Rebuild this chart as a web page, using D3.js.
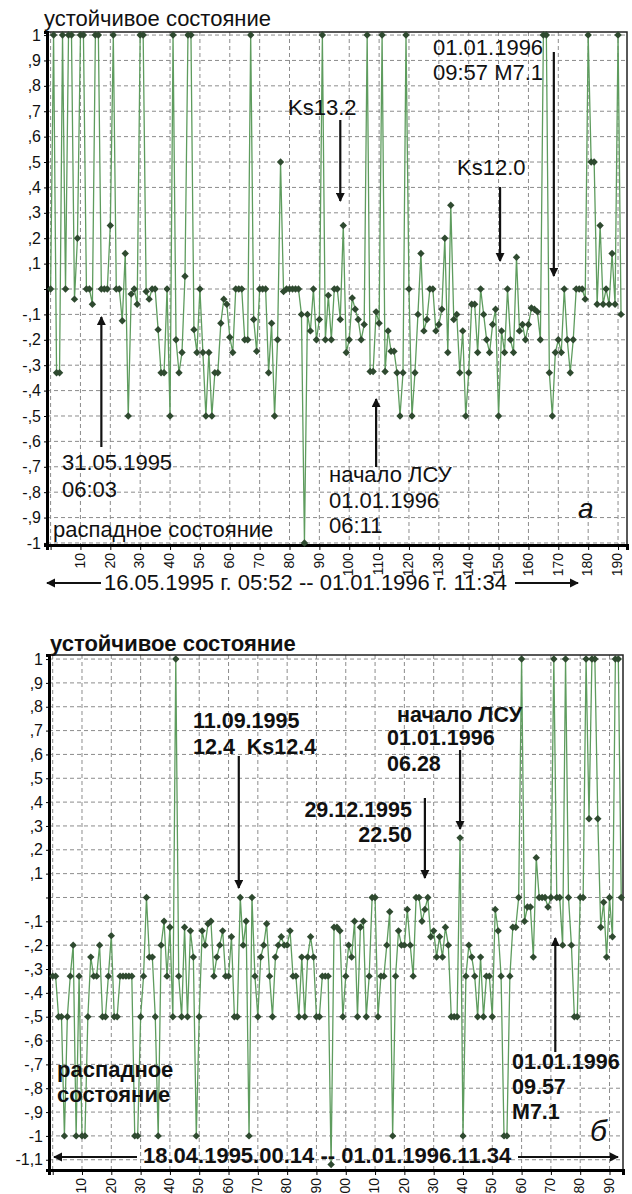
<!DOCTYPE html>
<html><head><meta charset="utf-8">
<script src="https://cdn.jsdelivr.net/npm/d3@7"></script>
<style>
body{margin:0;background:#fff}
svg{display:block}
text{font-family:"Liberation Sans",Arial,sans-serif;fill:#111}
</style>
</head><body>
<svg id="chart" width="632" height="1194"></svg>
<script>
// ---------- DATA ----------
const topValues = [
 0, 1, -0.33, -0.33, 1, 0, 1, 1, -0.04, 0.2,
 1, 1, 0, 0, -0.06, 1, 1, 0, 0, 0,
 0.25, 1, 0, 0, -0.125, 0.14, -0.5, -0.02, 0, -0.06,
 1, 1, -0.01, -0.04, 0, 0, -0.16, -0.33, -0.33, 0,
 -0.5, 1, -0.2, -0.33, -0.25, 0.05, 1, 1, -0.16, -0.25,
 0, -0.25, -0.5, -0.25, -0.5, -0.33, -0.33, -0.135, -0.04, -0.06,
 -0.19, -0.25, 0, 0, 0, -0.2, -0.2, 1, -0.12, -0.245,
 0, 0, 0, -0.33, -0.135, -0.5, -0.2, 0.5, -0.01, 0,
 0, 0, 0, 0, -0.1, -1.0, -0.1, -0.165, 0, -0.2,
 -0.12, 1, -0.2, -0.025, -0.2, 0, 0, -0.12, 0.25, -0.25,
 -0.2, -0.035, -0.08, -0.12, -0.2, -0.14, 1, -0.325, -0.325, -0.09,
 -0.135, 1, -0.325, -0.165, -0.245, -0.245, -0.33, -0.5, -0.33, 1,
 0, -0.5, -0.33, -0.1, 0.14, -0.165, -0.12, 0, 0, -0.165,
 -0.14, -0.08, 0.2, -0.25, 0.33, -0.12, -0.1, -0.33, -0.165, -0.5,
 -0.33, -0.06, -0.06, -0.25, 0, -0.1, -0.2, -0.25, -0.14, -0.08,
 -0.5, -0.165, -0.25, 0, -0.2, -0.25, 0.125, -0.165, -0.14, -0.2,
 -0.14, -0.075, -0.08, -0.09, -0.2, 1, 1, -0.33, -0.5, -0.25,
 -0.2, -0.25, 0, -0.2, -0.33, -0.2, 0, 0, 0, -0.04,
 1, 0.5, 0.5, -0.06, 0.25, -0.06, 0, -0.06, 0.14, -0.06,
 1, -0.1
];
const bottomValues = [
 -0.33, -0.33, -0.5, -0.5, -1.0, -0.5, -0.33, -0.2, -1.0, -0.33,
 -1.0, -1.0, -0.5, -0.25, -0.33, -0.33, -0.2, -0.5, -0.5, -0.33,
 -0.16, -0.5, -0.5, -0.33, -0.33, -0.33, -0.33, -0.33, -1.0, -1.0,
 -0.5, -0.33, 0, -0.25, -0.25, -0.5, -1.0, -0.2, -0.1, -0.33,
 -0.125, -0.5, 1, -0.33, -0.5, -0.125, -0.5, -0.14, -0.25, -1.0,
 -0.5, -0.14, -0.2, -0.11, -0.1, -0.33, -0.25, -0.2, -0.14, -0.33,
 -0.33, -0.165, -0.5, -0.5, 0, -0.2, -0.1, -1.0, 0, -0.33,
 -0.5, -0.25, -0.2, -0.11, -0.33, -0.5, -0.25, -0.2, -0.165, -0.2,
 -0.2, -0.14, -0.33, -0.33, -0.5, -0.25, -0.5, -0.25, -0.165, -0.25,
 -0.5, -0.5, -0.33, -0.33, -0.33, -1.12, -0.125, -0.125, -0.14, -0.5,
 -0.33, -0.2, -0.25, -0.1, -0.5, -0.125, -0.1, -0.5, -0.33, 0,
 0, -0.5, -0.33, -0.33, -0.2, -0.06, -1.0, -0.33, -0.14, -0.2,
 -0.2, -0.05, -0.2, -0.33, 0, 0, -0.1, -0.05, 0, -0.165,
 -0.14, -0.25, -0.165, -0.25, -0.125, -0.2, -0.5, -0.5, -0.5, 0.25,
 -1.0, -0.33, -0.2, -0.25, -0.33, -0.5, -0.25, -0.5, -0.33, -0.33,
 -0.5, -0.05, -0.14, -0.33, -1.0, -1.0, -0.33, -0.125, -0.125, 0,
 1, -0.1, -0.04, -0.04, -0.25, 0.167, 0, 0, 0, -0.04,
 0, 1, 0, 0, -0.2, 1, 0, -0.2, -0.5, -0.5,
 0, 0, 1, 0.33, 1, 1, 0.33, -0.125, -0.02, -0.25,
 0, -0.165, 1, 1, 0
];
const xTickValues = d3.range(10, 200, 10);
const xGridValues = d3.range(0, 200, 10);
const topYTicks = d3.range(-10, 11).map(d => d / 10);
const bottomYTicks = d3.range(-11, 11).map(d => d / 10);

// ---------- HELPERS ----------
const svg = d3.select("#chart");
const defs = svg.append("defs");
defs.append("marker").attr("id", "ah").attr("viewBox", "0 0 10 10")
  .attr("refX", 9).attr("refY", 5).attr("markerWidth", 4.2).attr("markerHeight", 4.2)
  .attr("markerUnits", "strokeWidth").attr("orient", "auto")
  .append("path").attr("d", "M0,0L10,5L0,10Z").attr("fill", "#111");

function yFmt(v) {
  if (Math.abs(v) < 1e-9) return "";
  const a = Math.abs(v);
  let s = a.toFixed(1);
  if (s.endsWith(".0")) s = s.slice(0, -2);
  if (s.startsWith("0")) s = s.slice(1);
  s = s.replace(".", ",");
  return (v < 0 ? "-" : "") + s;
}

function arrow(x1, y1, x2, y2) {
  svg.append("line").attr("x1", x1).attr("y1", y1).attr("x2", x2).attr("y2", y2)
    .attr("stroke", "#111").attr("stroke-width", 2.2).attr("marker-end", "url(#ah)");
}
function label(txt, x, y, opts = {}) {
  svg.append("text").attr("x", x).attr("y", y)
    .attr("font-size", opts.size || 22)
    .attr("font-weight", opts.bold ? "bold" : "normal")
    .attr("font-style", opts.italic ? "italic" : "normal")
    .attr("text-anchor", opts.anchor || "start")
    .style("white-space", "pre")
    .text(txt);
}

function drawPanel(cfg) {
  const x = d3.scaleLinear().domain(cfg.xDomain).range([cfg.left, cfg.right]);
  const y = d3.scaleLinear().domain(cfg.yDomain).range([cfg.bottom, cfg.top]);
  const g = svg.append("g");

  // grid
  g.selectAll(".hg").data(cfg.yTicks).join("line")
    .attr("x1", cfg.left).attr("x2", cfg.right)
    .attr("y1", d => y(d)).attr("y2", d => y(d))
    .attr("stroke", "#8c8c8c").attr("stroke-width", 1).attr("stroke-dasharray", "4,3");
  g.selectAll(".vg").data(xGridValues).join("line")
    .attr("x1", d => x(d)).attr("x2", d => x(d))
    .attr("y1", cfg.top).attr("y2", cfg.bottom)
    .attr("stroke", "#8c8c8c").attr("stroke-width", 1).attr("stroke-dasharray", "4,3");

  // frame
  g.append("rect").attr("x", cfg.left).attr("y", cfg.top)
    .attr("width", cfg.right - cfg.left).attr("height", cfg.bottom - cfg.top)
    .attr("fill", "none").attr("stroke", "#222").attr("stroke-width", 1.5);

  // y axis
  const yAxis = d3.axisLeft(y).tickValues(cfg.yTicks).tickFormat(yFmt).tickSize(3).tickPadding(3);
  const ya = g.append("g").attr("transform", `translate(${cfg.left},0)`).call(yAxis);
  ya.select(".domain").attr("stroke", "#000").attr("stroke-width", 3);
  ya.selectAll("text").attr("font-size", 16).attr("fill", "#222")
    .attr("font-family", '"Liberation Sans",Arial,sans-serif');

  // x axis
  const xAxis = d3.axisBottom(x).tickValues(xGridValues).tickSize(5)
    .tickFormat(d => d === 0 ? "" : cfg.xFmt(d));
  const xa = g.append("g").attr("transform", `translate(0,${cfg.bottom})`).call(xAxis);
  xa.select(".domain").attr("stroke", "#000").attr("stroke-width", 3);
  xa.selectAll("text").attr("font-size", 14).attr("fill", "#222")
    .attr("font-family", '"Liberation Sans",Arial,sans-serif')
    .attr("text-anchor", "end").attr("dy", null).attr("y", null)
    .attr("transform", "translate(0,8) rotate(-90)").attr("dominant-baseline", "middle");

  // series line
  const line = d3.line().x((d, i) => x(i)).y(d => y(d));
  g.append("path").datum(cfg.values).attr("d", line)
    .attr("fill", "none").attr("stroke", "#5e9c5e").attr("stroke-width", 1.3);
  g.selectAll(".pt").data(cfg.values).join("path")
    .attr("d", "M0,-3.7L3.7,0L0,3.7L-3.7,0Z")
    .attr("transform", (d, i) => `translate(${x(i)},${y(d)})`)
    .attr("fill", "#2f4a30");
  return { x, y };
}

// ---------- TOP PANEL ----------
const topPanel = drawPanel({
  values: topValues, left: 47, right: 627, top: 32, bottom: 545,
  xDomain: [-1.2, 193], yDomain: [-1.008, 1.012], yTicks: topYTicks,
  xFmt: d => String(d)
});
label("устойчивое состояние", 44, 26);
label("Ks13.2", 288, 115);
arrow(topPanel.x(97), 120, topPanel.x(97), 201);
label("Ks12.0", 457, 175);
arrow(topPanel.x(150.5), 187, topPanel.x(150.5), 261);
label("01.01.1996", 433, 55);
label("09:57 M7.1", 433, 80);
arrow(topPanel.x(168.5), 52, topPanel.x(168.5), 276);
label("31.05.1995", 62, 470);
label("06:03", 62, 497);
arrow(topPanel.x(17), 447, topPanel.x(17), 317);
label("начало ЛСУ", 329, 482);
label("01.01.1996", 329, 508);
label("06:11", 329, 533);
arrow(topPanel.x(109), 467, topPanel.x(109), 399);
label("распадное состояние", 53, 537);
label("а", 578, 518, { size: 28, italic: true });
label("16.05.1995 г. 05:52 -- 01.01.1996 г. 11:34", 104, 590);
arrow(101, 583, 47, 583);
arrow(515, 583, 578, 583);

// ---------- BOTTOM PANEL ----------
const botPanel = drawPanel({
  values: bottomValues, left: 49, right: 623, top: 655, bottom: 1170,
  xDomain: [-1.26, 194.6], yDomain: [-1.143, 1.017], yTicks: bottomYTicks,
  xFmt: d => String(d % 100).padStart(2, "0")
});
const B = { size: 21.5, bold: true };
label("устойчивое состояние", 50, 651, { size: 22, bold: true });
label("11.09.1995", 193, 728, B);
label("12.4  Ks12.4", 193, 754, B);
arrow(botPanel.x(63.5), 756, botPanel.x(63.5), 888);
label("начало ЛСУ", 397, 722, B);
label("01.01.1996", 387, 745, B);
label("06.28", 387, 771, B);
arrow(botPanel.x(139), 750, botPanel.x(139), 829);
label("29.12.1995", 412, 817, { size: 21.5, bold: true, anchor: "end" });
label("22.50", 412, 842, { size: 21.5, bold: true, anchor: "end" });
arrow(botPanel.x(127), 798, botPanel.x(127), 878);
label("распадное", 57, 1077, { size: 22, bold: true });
label("состояние", 57, 1102, { size: 22, bold: true });
label("18.04.1995.00.14 -- 01.01.1996.11.34", 143, 1163, { size: 22, bold: true });
arrow(137, 1157, 54, 1157);
arrow(518, 1157, 618, 1157);
label("01.01.1996", 512, 1069, B);
label("09.57", 512, 1094, B);
label("M7.1", 512, 1119, B);
arrow(botPanel.x(171.5), 1052, botPanel.x(171.5), 938);
label("б", 590, 1141, { size: 30, italic: true });
</script>
</body></html>
